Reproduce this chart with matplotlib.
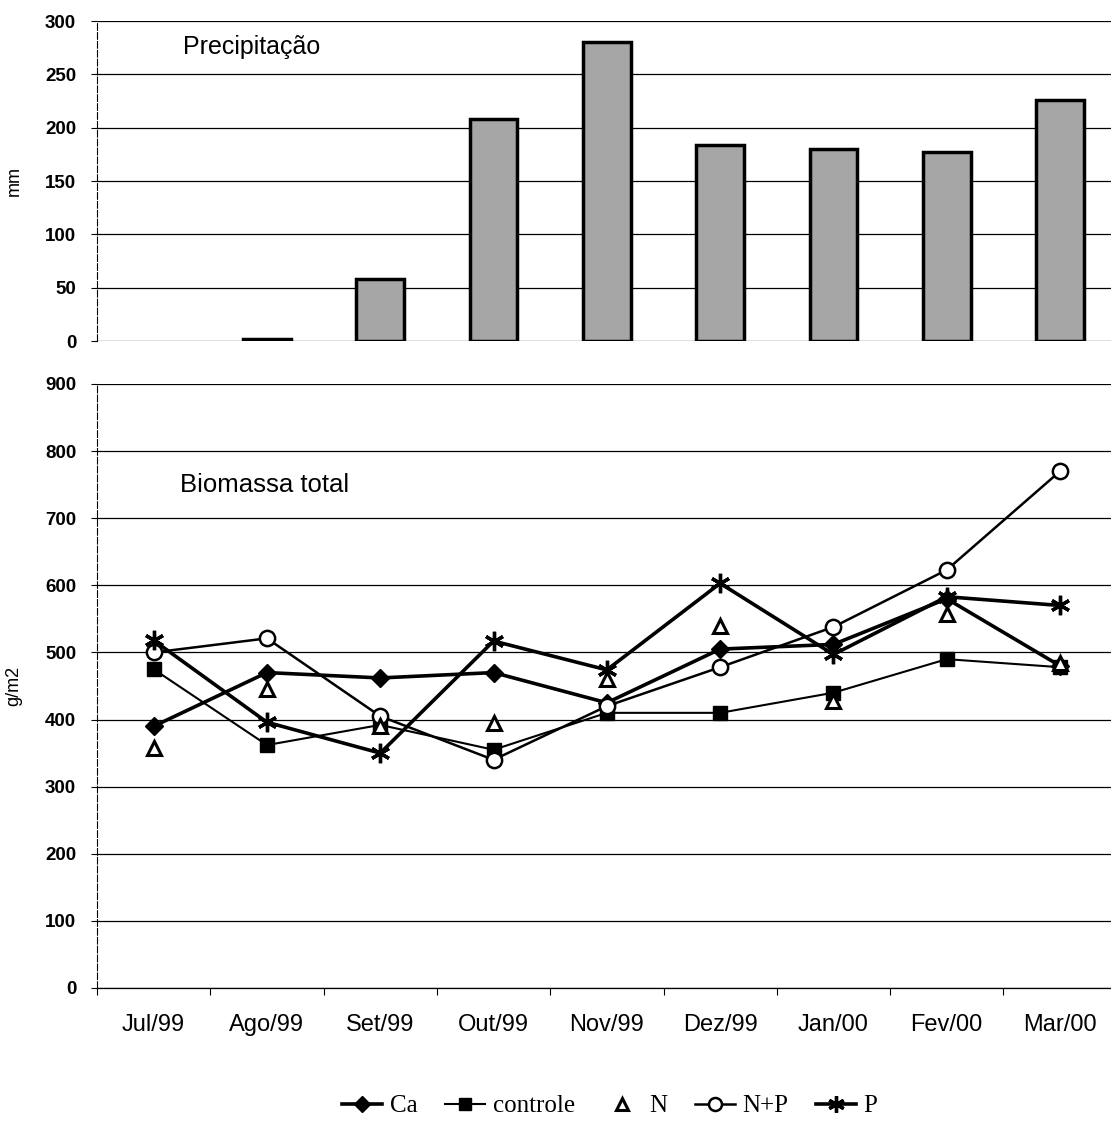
import matplotlib
matplotlib.use("Agg")
import matplotlib.pyplot as plt
from matplotlib.font_manager import FontProperties
import numpy as np

months = ["Jul/99", "Ago/99", "Set/99", "Out/99", "Nov/99", "Dez/99", "Jan/00", "Fev/00", "Mar/00"]
precip = [0, 1.5, 58, 208, 280, 184, 180, 177, 226]

ca = [390, 470, 462, 470, 425, 505, 512, 580, 480]
controle = [475, 362, 392, 355, 410, 410, 440, 490, 478]
n_vals = [357, 445, 390, 395, 460, 540, 428, 558, 485]
np_vals = [500, 521, 405, 340, 420, 478, 538, 623, 770]
p_vals = [518, 396, 350, 517, 474, 603, 497, 583, 570]

W, H = 1111, 1122
fig = plt.figure(figsize=(W / 100, H / 100), dpi=100)

def ax_rect(l, t, r, b):
    return [l / W, 1 - b / H, (r - l) / W, (b - t) / H]

x = np.arange(len(months))
xmax = -0.5 + (1111 - 97) / 113.3

tick_fp = FontProperties(family="Liberation Sans", size=13.5, weight="bold")

# top: precipitation
ax1 = fig.add_axes(ax_rect(97, 21, 1111, 341))
bars = ax1.bar(x, precip, width=0.42, color="#a6a6a6", edgecolor="black", linewidth=2.5, zorder=3)
for b, v in zip(bars, precip):
    if v == 0:
        b.set_linewidth(0)
ax1.set_xlim(-0.5, xmax)
ax1.set_ylim(0, 300)
ax1.set_yticks(np.arange(0, 301, 50))
ax1.yaxis.grid(True, color="black", linewidth=0.9)
ax1.set_xticks([])
for s in ["top", "right", "bottom"]:
    ax1.spines[s].set_visible(False)
ax1.spines["left"].set_linewidth(0.8)
ax1.spines["left"].set_linestyle((0, (6, 2)))
for lab in ax1.get_yticklabels():
    lab.set_fontproperties(tick_fp)
ax1.tick_params(axis="y", length=4, width=0.8, pad=11)
ax1.set_ylabel("mm", fontsize=13, family="Liberation Sans", labelpad=16)
ax1.text(0.085, 0.92, "Precipitação", transform=ax1.transAxes, fontsize=18,
         family="Liberation Sans", va="center", ha="left")

# bottom: biomass
ax2 = fig.add_axes(ax_rect(97, 384, 1111, 988))
lc = "black"
ax2.plot(x, ca, color=lc, lw=2.6, marker="D", ms=9, mfc="black", mec="black", label="Ca", zorder=5)
ax2.plot(x, controle, color=lc, lw=1.5, marker="s", ms=10, mfc="black", mec="black", label="controle", zorder=4)
ax2.plot(x, n_vals, linestyle="none", marker="^", ms=10, mfc="white", mec="black", mew=2.2, label="N", zorder=6)
ax2.plot(x, np_vals, color=lc, lw=1.8, marker="o", ms=11, mfc="white", mec="black", mew=1.8, label="N+P", zorder=5)
ax2.plot(x, p_vals, color=lc, lw=2.6, marker=(6, 2, 0), ms=14, mec="black", mew=2.4, label="P", zorder=5)
ax2.set_xlim(-0.5, xmax)
ax2.set_ylim(0, 900)
ax2.set_yticks(np.arange(0, 901, 100))
ax2.yaxis.grid(True, color="black", linewidth=0.9)
ax2.set_xticks(x)
ax2.set_xticklabels(months, fontsize=17, family="Liberation Sans")
ax2.set_xticks(np.arange(-0.5, xmax, 1), minor=True)
ax2.tick_params(axis="x", which="major", length=0, pad=19)
ax2.tick_params(axis="x", which="minor", length=5, width=0.8)
for s in ["top", "right"]:
    ax2.spines[s].set_visible(False)
ax2.spines["bottom"].set_linewidth(0.9)
ax2.spines["left"].set_linewidth(0.8)
ax2.spines["left"].set_linestyle((0, (6, 2)))
for lab in ax2.get_yticklabels():
    lab.set_fontproperties(tick_fp)
ax2.tick_params(axis="y", length=4, width=0.8, pad=11)
ax2.set_ylabel("g/m2", fontsize=13, family="Liberation Sans", labelpad=16)
ax2.text(0.082, 0.833, "Biomassa total", transform=ax2.transAxes, fontsize=18.5,
         family="Liberation Sans", va="center", ha="left")

leg = fig.legend(loc="center", bbox_to_anchor=(610 / W, 1 - 1106 / H), ncol=5, frameon=False,
                 prop=dict(family="Liberation Serif", size=18), handlelength=1.6,
                 handletextpad=0.3, columnspacing=1.1, markerscale=0.85)

fig.savefig("out.png", dpi=100)
